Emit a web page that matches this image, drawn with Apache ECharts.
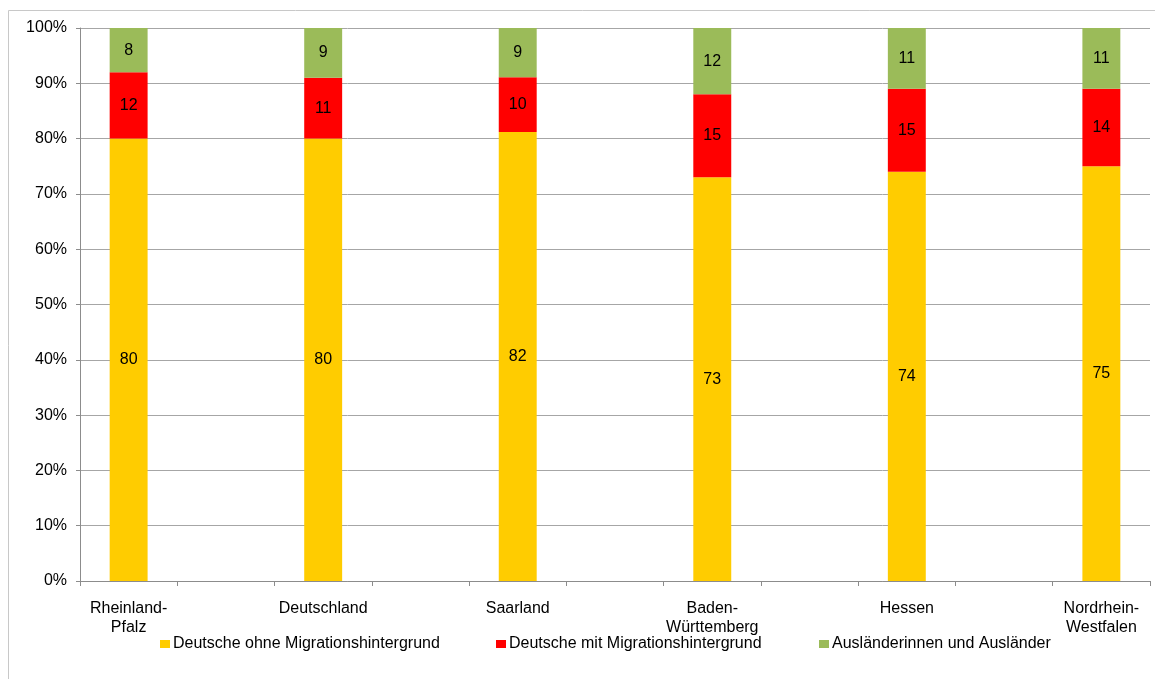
<!DOCTYPE html>
<html>
<head>
<meta charset="utf-8">
<script src="https://cdn.jsdelivr.net/npm/echarts@6/dist/echarts.min.js"></script>
<style>
  html, body { margin: 0; padding: 0; background: #fff; }
  #chart { width: 1155px; height: 679px; }
</style>
</head>
<body>
<div id="chart"></div>
<script>
// Länder (empty slots keep the wide spacing between the columns)
const categories = ['Rheinland-\nPfalz', '', 'Deutschland', '', 'Saarland', '', 'Baden-\nWürttemberg', '', 'Hessen', '', 'Nordrhein-\nWestfalen'];
// Anteile in Prozent, null = leere Kategorie
const ohneMigration = [80, null, 80, null, 82, null, 73, null, 74, null, 75];
const mitMigration  = [12, null, 11, null, 10, null, 15, null, 15, null, 14];
const auslaender    = [8,  null, 9,  null, 9,  null, 12, null, 11, null, 11];
const seriesNames = ['Deutsche ohne Migrationshintergrund', 'Deutsche mit Migrationshintergrund', 'Ausländerinnen und Ausländer'];
const yTicks = [0, 10, 20, 30, 40, 50, 60, 70, 80, 90, 100];

const colors = ['#FFCC00', '#FF0000', '#9BBB59'];
const raw = [ohneMigration, mitMigration, auslaender];

// 100%-stacking: each column is scaled to its own total
const totals = categories.map((_, i) => raw.reduce((s, arr) => s + (arr[i] || 0), 0));
const font = 'Liberation Sans, Arial, sans-serif';
const fs = 16;

const series = raw.map((arr, k) => ({
  name: seriesNames[k],
  type: 'bar',
  stack: 'total',
  barWidth: '39%',
  itemStyle: { color: colors[k] },
  label: {
    show: true,
    position: 'inside',
    color: '#000',
    fontFamily: font,
    fontSize: fs,
    formatter: p => String(p.data.raw)
  },
  data: arr.map((v, i) => v == null ? null : { value: v / totals[i] * 100, raw: v })
}));

const legendLefts = [160, 496, 819];
const chart = echarts.init(document.getElementById('chart'));
chart.setOption({
  animation: false,
  backgroundColor: '#fff',
  textStyle: { fontFamily: font },
  graphic: [{
    type: 'rect',
    shape: { x: 8.5, y: 10.5, width: 1170, height: 700 },
    style: { fill: null, stroke: '#c8c8c8', lineWidth: 1 },
    silent: true
  }],
  legend: seriesNames.map((n, k) => ({
    data: [n],
    left: legendLefts[k],
    top: 636,
    padding: 0,
    icon: 'rect',
    itemWidth: 10,
    itemHeight: 8,
    textStyle: { fontFamily: font, fontSize: fs, color: '#000', padding: [4, 0, 0, -2] }
  })),
  grid: { left: 80, right: 5, top: 28, bottom: 98 },
  xAxis: {
    type: 'category',
    data: categories,
    axisLine: { lineStyle: { color: '#8c8c8c' } },
    axisTick: { show: true, length: 5, interval: 0, lineStyle: { color: '#8c8c8c' } },
    axisLabel: { interval: 0, color: '#000', fontFamily: font, fontSize: fs, lineHeight: 19, margin: 18 }
  },
  yAxis: {
    type: 'value',
    min: 0,
    max: 100,
    interval: 10,
    axisLine: { show: true, lineStyle: { color: '#8c8c8c' } },
    axisTick: { show: true, length: 4, lineStyle: { color: '#8c8c8c' } },
    axisLabel: {
      color: '#000', fontFamily: font, fontSize: fs, margin: 13,
      formatter: v => yTicks.includes(v) ? v + '%' : ''
    },
    splitLine: { lineStyle: { color: '#a6a6a6' } }
  },
  series
});
</script>
</body>
</html>
